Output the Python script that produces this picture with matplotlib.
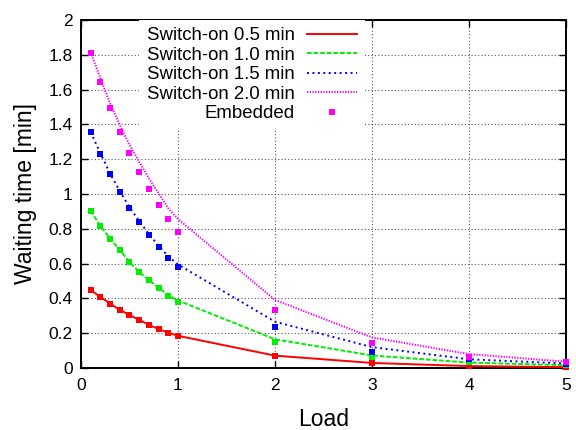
import matplotlib
matplotlib.use("Agg")
import matplotlib.pyplot as plt
from matplotlib.ticker import FuncFormatter

plt.rcParams['font.family'] = ['Liberation Sans', 'DejaVu Sans']

# Load values (x axis)
load = [0.1, 0.2, 0.3, 0.4, 0.5, 0.6, 0.7, 0.8, 0.9, 1.0, 2, 3, 4, 5]

# Model curves, waiting time [min] for each switch-on time
sw05 = [0.448, 0.409, 0.370, 0.334, 0.305, 0.276, 0.248, 0.224, 0.203, 0.185, 0.071, 0.029, 0.011, 0.005]
sw10 = [0.904, 0.816, 0.744, 0.678, 0.609, 0.552, 0.506, 0.460, 0.418, 0.388, 0.165, 0.072, 0.031, 0.016]
sw15 = [1.356, 1.234, 1.118, 1.016, 0.924, 0.845, 0.770, 0.702, 0.642, 0.595, 0.266, 0.120, 0.050, 0.026]
sw20 = [1.814, 1.665, 1.521, 1.397, 1.282, 1.186, 1.090, 1.004, 0.918, 0.856, 0.391, 0.176, 0.080, 0.036]

# Embedded (measured) points
emb05 = [0.448, 0.408, 0.370, 0.333, 0.305, 0.276, 0.247, 0.224, 0.203, 0.184, 0.071, 0.027, 0.011, 0.003]
emb10 = [0.904, 0.816, 0.744, 0.678, 0.609, 0.552, 0.506, 0.460, 0.416, 0.381, 0.150, 0.062, 0.036, 0.015]
emb15 = [1.355, 1.232, 1.115, 1.014, 0.921, 0.841, 0.764, 0.697, 0.634, 0.582, 0.238, 0.094, 0.050, 0.025]
emb20 = [1.812, 1.645, 1.495, 1.358, 1.238, 1.127, 1.029, 0.938, 0.858, 0.784, 0.331, 0.142, 0.065, 0.034]

labels = ["Switch-on 0.5 min", "Switch-on 1.0 min", "Switch-on 1.5 min", "Switch-on 2.0 min"]
colors = ["#ff0000", "#00ee00", "#0000ff", "#ff00ff"]
styles = ["-", (0, (2.4, 1.0)), (0, (1.0, 1.8)), (0, (0.7, 0.7))]

fig = plt.figure(figsize=(5.76, 4.30), dpi=100)
ax = fig.add_axes([0.1406, 0.1442, 0.8420, 0.8093])

handles = []
for y, lab, c, ls in zip([sw05, sw10, sw15, sw20], labels, colors, styles):
    h, = ax.plot(load, y, color=c, linestyle=ls, lw=1.4, label=lab, zorder=3)
    handles.append(h)

for y, c in zip([emb05, emb10, emb15, emb20], colors):
    hp, = ax.plot(load, y, linestyle="none", marker="s", ms=5, color=c,
                  markeredgewidth=0, zorder=4, clip_on=False)
hp.set_label("Embedded")
handles.append(hp)

ax.set_xlim(0, 5)
ax.set_ylim(0, 2)
ax.set_xticks(range(0, 6))
ax.set_yticks([i * 0.2 for i in range(11)])
ax.yaxis.set_major_formatter(FuncFormatter(lambda v, p: "%g" % round(v, 1)))

ax.grid(True, color="0.35", linestyle=(0, (1, 2)), lw=0.8)
ax.tick_params(direction="in", top=True, right=True, length=5, width=1,
               labelsize=12.5, pad=6)
ax.tick_params(axis="x", pad=7)
for s in ax.spines.values():
    s.set_linewidth(1.4)

ax.set_xlabel("Load", fontsize=16.5, labelpad=11)
ax.set_ylabel("Waiting time [min]", fontsize=16.5, labelpad=8)

leg = ax.legend(handles=handles, loc="upper right", bbox_to_anchor=(0.585, 1.0),
                markerfirst=False, fontsize=13.4, handlelength=2.7,
                handletextpad=0.65, labelspacing=0.13, borderpad=0.4,
                borderaxespad=0.0, numpoints=1, frameon=True, fancybox=False,
                framealpha=1.0, facecolor="white", edgecolor="none")
leg.set_zorder(5)

fig.savefig("out.png", dpi=100)
